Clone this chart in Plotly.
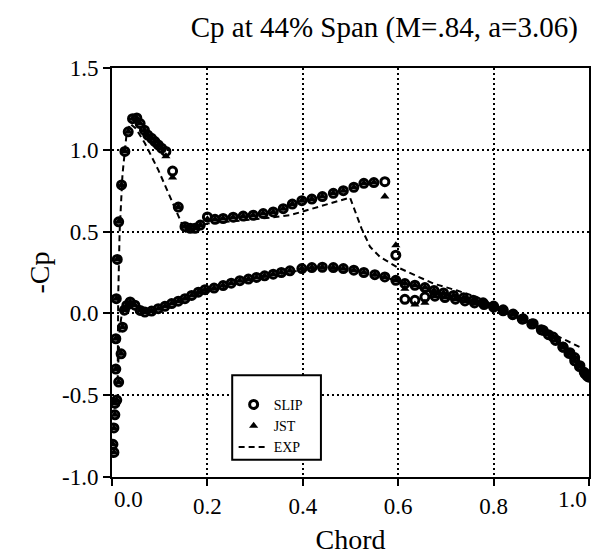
import plotly.graph_objects as go

# ---------------- data ----------------
x_upper = [0.002, 0.004, 0.006, 0.008, 0.008, 0.009, 0.011, 0.014, 0.020, 0.027,
           0.034, 0.043, 0.052, 0.059, 0.068, 0.075, 0.083, 0.090, 0.097, 0.104,
           0.113, 0.127, 0.139, 0.153, 0.164, 0.174, 0.185, 0.200, 0.216, 0.233,
           0.254, 0.275, 0.296, 0.317, 0.338, 0.359, 0.378, 0.398, 0.419, 0.441,
           0.464, 0.485, 0.507, 0.528, 0.549, 0.572, 0.595, 0.614, 0.635, 0.656,
           0.677, 0.698, 0.720, 0.740, 0.760, 0.780, 0.800, 0.820, 0.840, 0.860,
           0.880, 0.900, 0.915, 0.930, 0.945, 0.958, 0.970, 0.980, 0.990, 0.997]
slip_upper = [-0.80, -0.70, -0.55, -0.34, -0.155, 0.09, 0.33, 0.56, 0.785, 0.99,
              1.11, 1.19, 1.195, 1.16, 1.12, 1.09, 1.07, 1.05, 1.03, 1.01,
              0.99, 0.87, 0.65, 0.53, 0.52, 0.52, 0.54, 0.59, 0.575, 0.58,
              0.588, 0.595, 0.60, 0.61, 0.62, 0.64, 0.668, 0.689, 0.699, 0.714,
              0.734, 0.75, 0.771, 0.795, 0.80, 0.805, 0.356, 0.086, 0.08, 0.10,
              0.105, 0.097, 0.087, 0.076, 0.064, 0.054, 0.038, 0.016, -0.008, -0.035,
              -0.065, -0.10, -0.13, -0.165, -0.205, -0.245, -0.29, -0.325, -0.36, -0.385]
jst_upper = [-0.80, -0.70, -0.55, -0.34, -0.155, 0.09, 0.33, 0.56, 0.785, 0.99,
             1.11, 1.19, 1.195, 1.16, 1.12, 1.09, 1.07, 1.05, 1.03, 1.01,
             0.96, 0.83, 0.65, 0.53, 0.52, 0.52, 0.54, 0.575, 0.575, 0.58,
             0.588, 0.595, 0.60, 0.61, 0.62, 0.64, 0.668, 0.689, 0.699, 0.714,
             0.734, 0.75, 0.771, 0.795, 0.80, 0.714, 0.417, 0.15, 0.055, 0.065,
             0.105, 0.097, 0.087, 0.076, 0.064, 0.054, 0.038, 0.016, -0.008, -0.035,
             -0.065, -0.10, -0.13, -0.165, -0.205, -0.245, -0.29, -0.325, -0.36, -0.385]

x_lower = [0.004, 0.006, 0.010, 0.014, 0.019, 0.022, 0.026, 0.031, 0.038, 0.048,
           0.059, 0.069, 0.083, 0.097, 0.111, 0.125, 0.139, 0.153, 0.167, 0.181,
           0.195, 0.214, 0.233, 0.250, 0.268, 0.286, 0.303, 0.320, 0.338, 0.355,
           0.373, 0.398, 0.419, 0.441, 0.464, 0.485, 0.507, 0.528, 0.551, 0.572,
           0.595, 0.614, 0.635, 0.656, 0.675, 0.695, 0.716, 0.737, 0.757, 0.778,
           0.800, 0.820, 0.841, 0.862, 0.883, 0.904, 0.925, 0.946, 0.960, 0.970,
           0.981, 0.992, 1.000]
cp_lower = [-0.85, -0.62, -0.53, -0.42, -0.247, -0.084, 0.02, 0.049, 0.07, 0.05,
            0.018, 0.008, 0.014, 0.029, 0.043, 0.06, 0.075, 0.09, 0.11, 0.13,
            0.145, 0.155, 0.17, 0.185, 0.20, 0.21, 0.22, 0.23, 0.24, 0.25,
            0.26, 0.274, 0.28, 0.282, 0.28, 0.274, 0.264, 0.25, 0.237, 0.223,
            0.202, 0.182, 0.172, 0.158, 0.14, 0.125, 0.11, 0.095, 0.08, 0.065,
            0.045, 0.022, -0.004, -0.033, -0.063, -0.104, -0.145, -0.207, -0.24, -0.27,
            -0.32, -0.37, -0.39]

x_exp = [0.980, 0.950, 0.900, 0.850, 0.800, 0.765, 0.722, 0.674, 0.597, 0.562,
         0.541, 0.523, 0.499, 0.436, 0.373, 0.300, 0.200, 0.170, 0.155, 0.146,
         0.125, 0.097, 0.069, 0.050, 0.038, 0.030, 0.022, 0.016, 0.013, 0.012,
         0.012, 0.016, 0.022, 0.035, 0.050, 0.070, 0.100, 0.150, 0.200, 0.300,
         0.400, 0.450, 0.500, 0.600, 0.700, 0.800, 0.900, 0.980]
cp_exp = [-0.205, -0.16, -0.09, -0.02, 0.05, 0.10, 0.141, 0.182, 0.284, 0.345,
          0.407, 0.52, 0.708, 0.652, 0.60, 0.575, 0.55, 0.52, 0.50, 0.55,
          0.693, 0.877, 1.04, 1.13, 1.16, 1.08, 0.85, 0.50, 0.10, -0.20,
          -0.40, -0.10, 0.03, 0.055, 0.04, 0.02, 0.03, 0.085, 0.135, 0.215,
          0.265, 0.275, 0.265, 0.20, 0.10, 0.035, -0.09, -0.30]

x_ticks = [0.0, 0.2, 0.4, 0.6, 0.8, 1.0]
x_ticklabels = ["0.0", "0.2", "0.4", "0.6", "0.8", "1.0"]
y_ticks = [-1.0, -0.5, 0.0, 0.5, 1.0, 1.5]
y_ticklabels = ["-1.0", "-0.5", "0.0", "0.5", "1.0", "1.5"]

title_text = "Cp at 44% Span (M=.84, a=3.06)"
x_title = "Chord"
y_title = "-Cp"

SERIF = "Liberation Serif, Times New Roman, serif"
TICK_SIZE = 23

fig = go.Figure()

fig.add_trace(go.Scatter(
    x=x_exp, y=cp_exp, mode="lines", name="EXP", legendrank=3,
    line=dict(color="black", width=2, dash="6px,4px"),
))
fig.add_trace(go.Scatter(
    x=x_upper + x_lower, y=jst_upper + cp_lower, mode="markers", name="JST",
    legendrank=2,
    marker=dict(symbol="triangle-up", size=8, color="black",
                line=dict(width=0)),
))
fig.add_trace(go.Scatter(
    x=x_upper + x_lower, y=slip_upper + cp_lower, mode="markers", name="SLIP",
    legendrank=1,
    marker=dict(symbol="circle-open", size=8, color="black",
                line=dict(width=3, color="black")),
))

axis_common = dict(
    showline=True, linecolor="black", linewidth=2, mirror=True,
    ticks="outside", ticklen=7, tickwidth=2, tickcolor="black",
    showgrid=True, gridcolor="black", gridwidth=1.5, griddash="2px,3px",
    zeroline=False, automargin=False,
    tickfont=dict(family=SERIF, size=TICK_SIZE, color="black"),
)

# the end labels of the x axis sit inside the frame (as in the reference),
# so the inner ones come from the axis and the two end ones are annotations
inner_text = [("" if v in (x_ticks[0], x_ticks[-1]) else t)
              for v, t in zip(x_ticks, x_ticklabels)]

fig.update_xaxes(
    range=[0.0, 1.0], tickvals=x_ticks, ticktext=inner_text,
    title=dict(text=x_title, font=dict(family=SERIF, size=28, color="black"),
               standoff=12),
    **axis_common,
)
fig.update_yaxes(
    range=[-1.0, 1.5], tickvals=y_ticks, ticktext=y_ticklabels,
    title=dict(text=y_title, font=dict(family=SERIF, size=28, color="black"),
               standoff=4),
    **axis_common,
)

for v, t, anchor in [(x_ticks[0], x_ticklabels[0], "left"),
                     (x_ticks[-1], x_ticklabels[-1], "right")]:
    fig.add_annotation(x=v, xref="x", y=0, yref="paper", text=t,
                       xanchor=anchor, yanchor="top", yshift=-8,
                       showarrow=False,
                       font=dict(family=SERIF, size=TICK_SIZE, color="black"))

fig.add_shape(type="rect", xref="paper", yref="paper",
              x0=0.252, x1=0.438, y0=0.042, y1=0.249,
              line=dict(color="black", width=2), fillcolor="white",
              layer="above")

fig.update_layout(
    width=593, height=558,
    margin=dict(l=112, r=4, t=68, b=81),
    paper_bgcolor="white", plot_bgcolor="white",
    title=dict(text=title_text, x=0.648, xref="container", xanchor="center",
               y=1 - 27 / 558, yref="container", yanchor="middle",
               font=dict(family=SERIF, size=29, color="black")),
    showlegend=True,
    legend=dict(x=0.255, y=0.125, xanchor="left", yanchor="middle",
                bgcolor="rgba(0,0,0,0)", borderwidth=0,
                font=dict(family=SERIF, size=14, color="black"),
                tracegroupgap=0, itemwidth=30),
)

fig.write_html("out.html")
